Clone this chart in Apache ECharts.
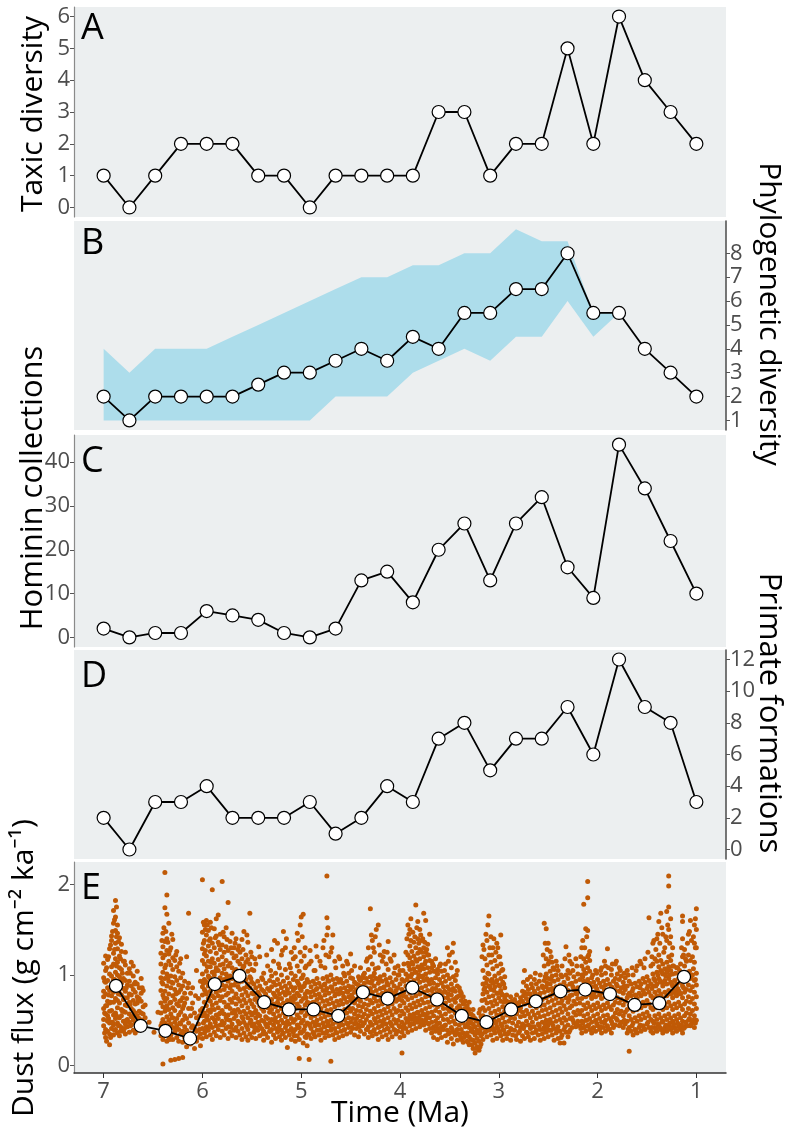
<!DOCTYPE html>
<html><head><meta charset="utf-8">
<script src="https://cdn.jsdelivr.net/npm/echarts@6/dist/echarts.min.js"></script>
<style>html,body{margin:0;padding:0;background:#fff}#c{width:796px;height:1137px}</style>
</head><body><div id="c"></div>
<script>
// ---- DATA ----
const binTimes = [7.000,6.739,6.478,6.217,5.957,5.696,5.435,5.174,4.913,4.652,4.391,4.130,3.870,3.609,3.348,3.087,2.826,2.565,2.304,2.043,1.783,1.522,1.261,1.000];
const taxicDiversity = [1,0,1,2,2,2,1,1,0,1,1,1,1,3,3,1,2,2,5,2,6,4,3,2];
const phyloDiversity = [2,1,2,2,2,2,2.5,3,3,3.5,4,3.5,4.5,4,5.5,5.5,6.5,6.5,8,5.5,5.5,4,3,2];
const bandTimes = [7.000,6.739,6.478,6.217,5.957,5.696,5.435,5.174,4.913,4.652,4.391,4.130,3.870,3.609,3.348,3.087,2.826,2.565,2.304,2.043,1.783];
const bandUpper = [4,3,4,4,4,4.5,5,5.5,6,6.5,7,7,7.5,7.5,8,8,9,8.5,8.5,5.5,5.5];
const bandLower = [1,1,1,1,1,1,1,1,1,2,2,2,3,3.5,4,3.5,4.5,4.5,6,4.5,5.5];
const homininCollections = [2,0,1,1,6,5,4,1,0,2,13,15,8,20,26,13,26,32,16,9,44,34,22,10];
const primateFormations = [2,0,3,3,4,2,2,2,3,1,2,4,3,7,8,5,7,7,9,6,12,9,8,3];
const dustMeanTimes = [6.875,6.625,6.375,6.125,5.875,5.625,5.375,5.125,4.875,4.625,4.375,4.125,3.875,3.625,3.375,3.125,2.875,2.625,2.375,2.125,1.875,1.625,1.375,1.125];
const dustMeans = [0.88,0.44,0.385,0.30,0.90,0.99,0.70,0.62,0.62,0.55,0.81,0.74,0.86,0.73,0.55,0.48,0.62,0.71,0.82,0.84,0.79,0.67,0.69,0.98];
const dustFlux = [
"7.00 0.44 0.51 0.63 0.76 0.82 0.97 1.13","6.98 0.31 0.40 0.57 0.66 0.79 0.92 1.05 1.21","6.96 0.38 0.49 0.55 0.71 0.86 0.94 1.17",
"6.94 0.23 0.35 0.47 0.60 0.69 0.83 1.01 1.29","6.92 0.41 0.48 0.61 0.77 0.84 0.99 1.09 1.38 1.43","6.90 0.34 0.45 0.56 0.70 0.81 0.95 1.12 1.24 1.57 1.71",
"6.88 0.40 0.52 0.58 0.74 0.89 1.03 1.18 1.35 1.49 1.64 1.82","6.86 0.36 0.47 0.64 0.72 0.87 1.00 1.14 1.29 1.46 1.55","6.84 0.33 0.44 0.53 0.69 0.80 0.98 1.08 1.21 1.41",
"6.82 0.42 0.55 0.62 0.78 0.91 1.06 1.26 1.34","6.80 0.38 0.49 0.60 0.73 0.85 0.96 1.15","6.78 0.35 0.46 0.59 0.67 0.82 0.94 1.11 1.25",
"6.76 0.43 0.51 0.66 0.75 0.89 1.02","6.74 0.37 0.48 0.57 0.70 0.79 0.93 1.07","6.72 0.45 0.54 0.63 0.78 0.88 1.14",
"6.70 0.39 0.50 0.61 0.72 0.84 0.99 1.10","6.68 0.36 0.47 0.58 0.68 0.81 0.92","6.66 0.46 0.55 0.69 0.76 0.90 1.04",
"6.64 0.41 0.52 0.60 0.74 0.86","6.62 0.49 0.58 0.71 0.80 0.96","6.60 0.44 0.57 0.65 0.83","6.58 0.53 0.67",
"6.54 0.48","6.49 0.37","6.45 0.59",
"6.42 0.33 0.44 0.58 0.69 0.83 0.97 1.12 1.24","6.40 0.02 0.29 0.38 0.51 0.65 0.78 0.90 1.03 1.19 1.31 1.46","6.38 0.35 0.47 0.60 0.71 0.82 0.96 1.08 1.22 1.37 1.74 2.13",
"6.36 0.27 0.41 0.54 0.66 0.74 0.88 1.01 1.27 1.40 1.67 1.88","6.34 0.31 0.39 0.50 0.62 0.79 0.93 1.15 1.23 1.57","6.32 0.06 0.34 0.46 0.57 0.70 0.86 0.99 1.11 1.30",
"6.30 0.29 0.42 0.53 0.64 0.77 0.91 1.06 1.19 1.39","6.28 0.07 0.37 0.48 0.61 0.73 0.84 0.98 1.16","6.26 0.31 0.44 0.52 0.68 0.80 0.94 1.09 1.26",
"6.24 0.08 0.27 0.40 0.56 0.66 0.81 0.89 1.04","6.22 0.35 0.46 0.59 0.72 0.84 0.97 1.18","6.20 0.09 0.26 0.38 0.50 0.63 0.75 0.88 1.02",
"6.18 0.31 0.43 0.55 0.69 0.80 0.93","6.16 0.21 0.39 0.52 0.74 1.20","6.14 0.30 0.47 0.63 0.91 1.68",
"6.12 0.24 0.36 0.55 0.80","6.10 0.33 0.44 0.69 0.86","6.08 0.19 0.41 0.58",
"6.06 0.27 0.38 0.53 1.05","6.04 0.31 0.46 0.74","6.02 0.22 0.35 0.61 0.93",
"6.00 0.30 0.41 0.55 0.63 0.78 0.87 1.01 1.16 1.29 1.47 2.05","5.98 0.36 0.49 0.58 0.70 0.84 0.95 1.12 1.23 1.38 1.55","5.96 0.32 0.43 0.54 0.66 0.79 0.92 1.04 1.21 1.44 1.60",
"5.94 0.39 0.50 0.61 0.74 0.88 0.99 1.15 1.32 1.49","5.92 0.34 0.46 0.59 0.71 0.82 0.96 1.09 1.26 1.40 1.58","5.90 0.29 0.42 0.53 0.67 0.77 0.90 1.03 1.18 1.35 1.94",
"5.88 0.37 0.51 0.62 0.75 0.86 1.00 1.13 1.30 1.51","5.86 0.33 0.44 0.56 0.69 0.81 0.94 1.08 1.24 1.43 1.62","5.84 0.40 0.52 0.64 0.77 0.90 1.05 1.17 1.36 1.66",
"5.82 0.31 0.45 0.58 0.72 0.83 0.97 1.11 1.28 1.45","5.80 0.38 0.49 0.61 0.76 0.89 1.02 1.20 1.33 2.03","5.78 0.34 0.47 0.57 0.70 0.84 0.95 1.07 1.25 1.42",
"5.76 0.41 0.53 0.65 0.78 0.88 1.01 1.16 1.31 1.52","5.74 0.30 0.43 0.56 0.67 0.80 0.93 1.10 1.27 1.80","5.72 0.37 0.50 0.63 0.73 0.86 0.99 1.13 1.37",
"5.70 0.33 0.46 0.58 0.70 0.82 0.96 1.08 1.24 1.46","5.68 0.39 0.52 0.61 0.75 0.89 1.03 1.19 1.30","5.66 0.31 0.42 0.55 0.68 0.79 0.92 1.06 1.21 1.40",
"5.64 0.38 0.49 0.62 0.74 0.87 1.00 1.15 1.28","5.62 0.34 0.47 0.59 0.71 0.84 0.97 1.12 1.25","5.60 0.29 0.41 0.54 0.66 0.78 0.93 1.05 1.18 1.39",
"5.58 0.36 0.48 0.60 0.73 0.85 0.99 1.10 1.48","5.56 0.32 0.45 0.57 0.69 0.81 0.95 1.14 1.22","5.54 0.28 0.40 0.53 0.64 0.77 0.90 1.04 1.17 1.36",
"5.52 0.35 0.47 0.59 0.72 0.86 0.98 1.12 1.68","5.50 0.31 0.44 0.56 0.68 0.80 0.92 1.06 1.20","5.48 0.37 0.46 0.58 0.65 0.79 0.90 1.05",
"5.46 0.30 0.42 0.53 0.61 0.74 0.86 1.12","5.44 0.39 0.48 0.57 0.70 0.81 0.93","5.42 0.33 0.44 0.55 0.66 0.77 0.88 1.20",
"5.40 0.41 0.50 0.63 0.72 0.84 0.97","5.38 0.28 0.38 0.49 0.60 0.69 0.82 1.02","5.36 0.35 0.46 0.54 0.67 0.79 0.91",
"5.34 0.31 0.43 0.52 0.64 0.75 0.85 1.10","5.32 0.38 0.47 0.59 0.71 0.83 0.94","5.30 0.26 0.40 0.51 0.62 0.73 0.87 0.99 1.28",
"5.28 0.34 0.45 0.57 0.68 0.80 0.92 1.15","5.26 0.30 0.41 0.53 0.65 0.76 0.89 1.02","5.24 0.37 0.48 0.60 0.70 0.83 0.95 1.35",
"5.22 0.32 0.44 0.55 0.67 0.79 0.90 1.08","5.20 0.28 0.39 0.50 0.63 0.74 0.86 1.00 1.22","5.18 0.36 0.47 0.58 0.69 0.81 0.93 1.48",
"5.16 0.31 0.42 0.54 0.66 0.78 0.88 1.06 1.30","5.14 0.20 0.38 0.49 0.61 0.72 0.84 0.97","5.12 0.34 0.46 0.57 0.68 0.80 0.91 1.12",
"5.10 0.29 0.41 0.52 0.64 0.75 0.87 1.02 1.25","5.08 0.37 0.48 0.59 0.70 0.83 0.95 1.18","5.06 0.27 0.40 0.51 0.63 0.74 0.86 0.99 1.20",
"5.04 0.33 0.45 0.56 0.68 0.80 0.93 1.10 1.46","5.02 0.08 0.29 0.42 0.53 0.65 0.77 0.89 1.04","5.00 0.36 0.47 0.59 0.71 0.83 0.96 1.15 1.64",
"4.98 0.25 0.38 0.50 0.62 0.74 0.87 1.00 1.67","4.96 0.32 0.44 0.55 0.67 0.79 0.91 1.08 1.30","4.94 0.22 0.35 0.47 0.58 0.70 0.82 0.95",
"4.92 0.07 0.34 0.46 0.57 0.69 0.81 0.92 1.12","4.90 0.30 0.41 0.53 0.64 0.76 0.87 1.15","4.88 0.37 0.48 0.59 0.70 0.82 0.93",
"4.86 0.32 0.44 0.55 0.67 0.78 0.90 1.05","4.84 0.39 0.50 0.61 0.73 0.85 0.96 1.20","4.82 0.34 0.45 0.57 0.68 0.79 0.91",
"4.80 0.28 0.40 0.52 0.63 0.75 0.87 1.10","4.78 0.36 0.47 0.58 0.71 0.83 0.96 1.30","4.76 0.31 0.43 0.54 0.66 0.78 0.90 1.08",
"4.74 0.38 0.49 0.61 0.72 0.85 0.98 1.44 1.63 2.09","4.72 0.33 0.44 0.56 0.68 0.80 0.93 1.20","4.70 0.05 0.39 0.50 0.62 0.74 0.87 1.00 1.25",
"4.68 0.34 0.46 0.57 0.69 0.82 0.95 1.44","4.66 0.29 0.41 0.53 0.65 0.77 0.90 1.15","4.64 0.36 0.48 0.59 0.71 0.84 0.96",
"4.62 0.31 0.43 0.55 0.67 0.79 0.92 1.20","4.60 0.38 0.49 0.60 0.72 0.85 0.95","4.58 0.33 0.45 0.56 0.68 0.80 0.91 1.10",
"4.56 0.40 0.51 0.62 0.74 0.86 0.99","4.54 0.35 0.47 0.58 0.70 0.82 0.93 1.15","4.52 0.42 0.53 0.64 0.76 0.88 1.02",
"4.50 0.37 0.48 0.60 0.72 0.84 0.97 1.23","4.48 0.41 0.52 0.63 0.75 0.87 0.96","4.46 0.34 0.46 0.57 0.69 0.81 0.92 1.10",
"4.44 0.41 0.52 0.61 0.73 0.84 0.90","4.42 0.32 0.45 0.55 0.66 0.78 0.89 0.98","4.40 0.38 0.49 0.60 0.71 0.83 0.94 1.08",
"4.38 0.44 0.54 0.65 0.76 0.88 0.97","4.36 0.35 0.47 0.57 0.68 0.80 0.91 1.02","4.34 0.40 0.51 0.62 0.74 0.86 0.96 1.15",
"4.32 0.31 0.43 0.55 0.67 0.79 0.92 1.06 1.30","4.30 0.37 0.48 0.60 0.72 0.85 0.98 1.20 1.73","4.28 0.33 0.45 0.57 0.69 0.81 0.94 1.12 1.38",
"4.26 0.40 0.52 0.63 0.75 0.88 1.02 1.25","4.24 0.35 0.47 0.59 0.71 0.83 0.96 1.50","4.22 0.29 0.42 0.54 0.66 0.78 0.91 1.08 1.55",
"4.20 0.37 0.49 0.60 0.72 0.85 0.98 1.22","4.18 0.32 0.44 0.56 0.68 0.80 0.93 1.15","4.16 0.39 0.51 0.62 0.74 0.87 1.00 1.26",
"4.14 0.34 0.46 0.58 0.70 0.82 0.95 1.12","4.12 0.29 0.41 0.53 0.65 0.77 0.89 1.06 1.37","4.10 0.37 0.48 0.60 0.72 0.84 0.97 1.18",
"4.08 0.32 0.44 0.56 0.68 0.80 0.92","4.06 0.40 0.51 0.63 0.75 0.88 1.02 1.22","4.04 0.35 0.47 0.59 0.71 0.83 0.95",
"4.02 0.38 0.50 0.61 0.73 0.86 1.00 1.10","4.00 0.31 0.43 0.55 0.66 0.78 0.90 1.05","3.98 0.14 0.37 0.48 0.60 0.72 0.84 0.95",
"3.96 0.33 0.45 0.57 0.69 0.81 0.93 1.12","3.94 0.41 0.52 0.64 0.76 0.88 1.01 1.25","3.92 0.37 0.49 0.61 0.73 0.86 0.99 1.13 1.22 1.55",
"3.90 0.44 0.56 0.67 0.80 0.92 1.06 1.19 1.32 1.50","3.88 0.39 0.51 0.63 0.75 0.88 1.01 1.14 1.26","3.86 0.46 0.57 0.69 0.82 0.94 1.07 1.21 1.36",
"3.84 0.41 0.53 0.65 0.77 0.90 1.03 1.17 1.30 1.77","3.82 0.48 0.59 0.71 0.84 0.96 1.09 1.24 1.40 1.59","3.80 0.43 0.55 0.67 0.79 0.92 1.05 1.18 1.28 1.50",
"3.78 0.50 0.61 0.73 0.86 0.98 1.11 1.25 1.38","3.76 0.45 0.57 0.69 0.81 0.94 1.07 1.20 1.30 1.68","3.74 0.39 0.51 0.63 0.76 0.88 1.01 1.15 1.25 1.60",
"3.72 0.47 0.58 0.70 0.83 0.95 1.08 1.22 1.34","3.70 0.41 0.53 0.65 0.77 0.90 1.03 1.16 1.45","3.68 0.36 0.48 0.59 0.71 0.83 0.95 1.08 1.15",
"3.66 0.31 0.43 0.55 0.67 0.79 0.91 1.04 1.10","3.64 0.38 0.49 0.61 0.73 0.85 0.97 1.18","3.62 0.29 0.41 0.53 0.65 0.77 0.89 1.01 1.06",
"3.60 0.36 0.47 0.59 0.71 0.83 0.95 1.10","3.58 0.31 0.43 0.55 0.67 0.79 0.91 1.04","3.56 0.40 0.51 0.63 0.75 0.87 0.98",
"3.54 0.33 0.45 0.57 0.69 0.81 0.93 1.12","3.52 0.26 0.39 0.51 0.63 0.75 0.87 1.00 1.30","3.50 0.36 0.48 0.60 0.72 0.84 0.96 1.22",
"3.48 0.30 0.42 0.54 0.66 0.78 0.90 1.08","3.46 0.24 0.37 0.49 0.61 0.73 0.85 0.98 1.35","3.44 0.34 0.46 0.58 0.70 0.82 0.94 1.14",
"3.42 0.28 0.40 0.52 0.64 0.76 0.88 1.05","3.40 0.35 0.45 0.56 0.66 0.77 0.86","3.38 0.29 0.40 0.50 0.61 0.72 0.80",
"3.36 0.26 0.36 0.47 0.58 0.68 0.76","3.34 0.33 0.43 0.54 0.63 0.71","3.32 0.27 0.36 0.45 0.56 0.66",
"3.30 0.23 0.32 0.42 0.51 0.62 0.70","3.28 0.29 0.38 0.47 0.57","3.26 0.19 0.28 0.37 0.46 0.55 0.62",
"3.24 0.14 0.25 0.34 0.43 0.52","3.22 0.21 0.30 0.39 0.49","3.20 0.17 0.27 0.36 0.45 0.58",
"3.18 0.24 0.33 0.42 0.54","3.16 0.29 0.42 0.55 0.64 0.79 0.90 1.05 1.33","3.14 0.37 0.48 0.61 0.73 0.86 0.97 1.18",
"3.12 0.32 0.45 0.53 0.69 0.81 0.95 1.11 1.38","3.10 0.39 0.51 0.63 0.76 0.88 1.01 1.22 1.65","3.08 0.34 0.44 0.58 0.70 0.84 0.93 1.14 1.42",
"3.06 0.28 0.41 0.52 0.66 0.77 0.91 1.07 1.30","3.04 0.36 0.49 0.60 0.72 0.87 0.99 1.16","3.02 0.30 0.43 0.56 0.68 0.80 0.94 1.10 1.35",
"3.00 0.38 0.50 0.62 0.75 0.89 1.02 1.20","2.98 0.33 0.46 0.57 0.71 0.83 0.96 1.12 1.44","2.96 0.28 0.40 0.53 0.65 0.78 0.92 1.06",
"2.94 0.35 0.48 0.60 0.74 0.86 0.98","2.92 0.30 0.43 0.56 0.71 0.78","2.90 0.37 0.49 0.62 0.70",
"2.88 0.28 0.41 0.53 0.66 0.76","2.86 0.34 0.47 0.59 0.68","2.84 0.39 0.52 0.63 0.73",
"2.82 0.29 0.44 0.57 0.69 0.78","2.80 0.36 0.48 0.61 0.67","2.78 0.27 0.42 0.54 0.64 0.75",
"2.76 0.33 0.46 0.59 0.71 0.82","2.74 0.30 0.44 0.55 0.68 0.81 1.05","2.72 0.37 0.49 0.61 0.74 0.88",
"2.70 0.32 0.45 0.57 0.70 0.84","2.68 0.28 0.41 0.53 0.66 0.79 0.98","2.66 0.36 0.48 0.60 0.73 0.86",
"2.64 0.30 0.43 0.56 0.69 0.82 0.95","2.62 0.39 0.52 0.64 0.76 0.90","2.60 0.34 0.46 0.58 0.71 0.85",
"2.58 0.28 0.40 0.54 0.66 0.80 1.00","2.56 0.35 0.48 0.61 0.73 0.88","2.54 0.30 0.42 0.55 0.67 0.81 0.94 1.10 1.57",
"2.52 0.37 0.50 0.62 0.75 0.87 1.01 1.18 1.51","2.50 0.32 0.45 0.57 0.70 0.83 0.96 1.12 1.35","2.48 0.39 0.51 0.64 0.77 0.90 1.04 1.26",
"2.46 0.34 0.47 0.59 0.72 0.85 0.99 1.14","2.44 0.28 0.41 0.54 0.67 0.79 0.93 1.06","2.42 0.36 0.49 0.61 0.74 0.87 1.00 1.15",
"2.40 0.30 0.43 0.56 0.69 0.82 0.95 1.05","2.38 0.25 0.38 0.51 0.63 0.76 0.89","2.36 0.34 0.47 0.59 0.72 0.85 0.98 1.10",
"2.34 0.25 0.40 0.53 0.66 0.79 0.92","2.32 0.37 0.50 0.62 0.75 0.88 1.00 1.31","2.30 0.32 0.45 0.57 0.70 0.83 0.96 1.05",
"2.28 0.39 0.52 0.64 0.77 0.90 1.02 1.15","2.26 0.42 0.53 0.66 0.78 0.91 1.12","2.24 0.47 0.59 0.71 0.84 0.98",
"2.22 0.43 0.56 0.68 0.80 0.93 1.18","2.20 0.49 0.61 0.74 0.86 1.01","2.18 0.44 0.57 0.69 0.82 0.95",
"2.16 0.36 0.49 0.61 0.74 0.87 1.00 1.10 1.30","2.14 0.42 0.55 0.67 0.80 0.93 1.06 1.18 1.78","2.12 0.38 0.50 0.63 0.76 0.89 1.02 1.14 1.51",
"2.10 0.44 0.57 0.69 0.82 0.95 1.08 1.20 1.49 1.85 2.03","2.08 0.40 0.52 0.65 0.78 0.91 1.04 1.16 1.26","2.06 0.36 0.48 0.61 0.74 0.87 0.97",
"2.04 0.42 0.55 0.67 0.80 0.92","2.02 0.38 0.50 0.63 0.76 0.88 1.05","2.00 0.44 0.57 0.69 0.82 0.95",
"1.98 0.40 0.52 0.65 0.78 0.91","1.96 0.36 0.48 0.61 0.74 0.87 1.00 1.08","1.94 0.42 0.55 0.67 0.80 0.93",
"1.92 0.38 0.50 0.63 0.76 0.89 1.02 1.10","1.90 0.44 0.56 0.69 0.82 0.95 1.29","1.88 0.40 0.52 0.65 0.78 0.90",
"1.86 0.36 0.49 0.62 0.74 0.87 1.00 1.06","1.84 0.42 0.54 0.67 0.80 0.93","1.82 0.45 0.58 0.70 0.83 0.96 1.12",
"1.80 0.50 0.62 0.75 0.88 1.01","1.78 0.44 0.57 0.69 0.82 0.95 1.08","1.76 0.48 0.60 0.73 0.86 0.99",
"1.74 0.42 0.55 0.67 0.80 0.92","1.72 0.46 0.59 0.71 0.84 0.97","1.70 0.36 0.49 0.62 0.75 0.88 1.05",
"1.68 0.16 0.42 0.55 0.67 0.80 0.93","1.66 0.38 0.51 0.64 0.77 0.90","1.64 0.34 0.47 0.60 0.72 0.85 1.00",
"1.62 0.40 0.53 0.66 0.78 0.91","1.60 0.36 0.49 0.62 0.74 0.87 1.10","1.58 0.42 0.55 0.67 0.80 0.93",
"1.56 0.38 0.51 0.64 0.77 0.90 1.12","1.54 0.44 0.57 0.70 0.83 0.96","1.52 0.40 0.53 0.66 0.79 0.92 1.18",
"1.50 0.46 0.59 0.72 0.85 0.98","1.48 0.42 0.55 0.68 0.81 0.94 1.63","1.46 0.38 0.51 0.64 0.77 0.90 1.10",
"1.44 0.36 0.49 0.62 0.75 0.88 1.01 1.12 1.35","1.42 0.42 0.55 0.68 0.81 0.94 1.18","1.40 0.38 0.51 0.64 0.77 0.90 1.03 1.15 1.40",
"1.38 0.44 0.57 0.70 0.83 0.96 1.09 1.22 1.59","1.36 0.40 0.53 0.66 0.79 0.92 1.05 1.16 1.68","1.34 0.36 0.49 0.62 0.75 0.88 1.01 1.12 1.45",
"1.32 0.42 0.55 0.68 0.81 0.94 1.07 1.30","1.30 0.38 0.51 0.64 0.77 0.90 1.03 1.14 1.38 1.70","1.28 0.44 0.57 0.70 0.83 0.96 1.09 1.20 1.50 1.75 1.98 2.09",
"1.26 0.40 0.53 0.66 0.79 0.92 1.05 1.16 1.42 1.62","1.24 0.36 0.49 0.62 0.75 0.88 1.01 1.10 1.30","1.22 0.42 0.55 0.68 0.81 0.94",
"1.20 0.38 0.51 0.64 0.77 0.90 1.08","1.18 0.44 0.57 0.70 0.83 0.96","1.16 0.40 0.53 0.66 0.79 0.92 1.12",
"1.14 0.36 0.49 0.62 0.75 0.88 1.01 1.20 1.40 1.59 1.65","1.12 0.42 0.55 0.68 0.81 0.94 1.10 1.28","1.10 0.45 0.58 0.71 0.84 0.97 1.15",
"1.08 0.50 0.63 0.76 0.89 1.02 1.22 1.45","1.06 0.44 0.57 0.70 0.83 0.96 1.16 1.60","1.04 0.48 0.61 0.74 0.87 1.00 1.20",
"1.02 0.42 0.55 0.68 0.81 0.94 1.14 1.35 1.55","1.00 0.50 0.63 0.76 0.89 1.02 1.30 1.50 1.73"
];
// further samples between the rows above
const dustFluxOdd = [
"6.99 0.36 0.58 0.93","6.97 0.27 0.66 1.08","6.95 0.52 0.78 1.20","6.93 0.31 0.70 1.33","6.91 0.48 0.87 1.48",
"6.89 0.39 0.95 1.28 1.61","6.87 0.55 1.10 1.42 1.75","6.85 0.44 0.79 1.37","6.83 0.38 0.93 1.18","6.81 0.60 1.02",
"6.79 0.41 0.75 1.15","6.77 0.50 0.86","6.73 0.44 0.68 1.02","6.69 0.55 0.90","6.65 0.39 0.73","6.61 0.50 0.86",
"6.41 0.47 0.92 1.38","6.39 0.33 0.75 1.52","6.37 0.62 1.11 1.48","6.35 0.45 0.97 1.36","6.33 0.29 0.69 1.27",
"6.31 0.53 0.92 1.45","6.27 0.40 0.79 1.22","6.23 0.47 0.71 1.13","6.19 0.36 0.66","6.15 0.28 0.86","6.11 0.42 0.63",
"6.07 0.30 0.77","6.03 0.40 0.55","5.99 0.47 0.91 1.35 1.58","5.97 0.38 0.82 1.27 1.50","5.95 0.55 1.09 1.55",
"5.93 0.43 0.97 1.38","5.91 0.62 1.14 1.52","5.87 0.48 1.04 1.41","5.83 0.57 0.93 1.33","5.79 0.45 1.12 1.47",
"5.75 0.51 0.98 1.39","5.71 0.42 0.89 1.30","5.67 0.58 1.01 1.35","5.63 0.46 0.92 1.32","5.59 0.52 1.08 1.28",
"5.55 0.43 0.87 1.44","5.51 0.50 0.96 1.25","5.47 0.41 0.73 1.18","5.43 0.47 0.79 1.31","5.39 0.35 0.64 0.95",
"5.35 0.43 0.73 1.22","5.31 0.38 0.67 1.05","5.27 0.49 0.78 1.38","5.23 0.41 0.74 1.12","5.19 0.35 0.63 1.27",
"5.15 0.45 0.80 1.40","5.11 0.39 0.71 1.08","5.07 0.33 0.77 1.30","5.03 0.42 0.91 1.38","5.01 0.37 0.85 1.25 1.55",
"4.99 0.49 0.97 1.42","4.97 0.40 0.88 1.21","4.95 0.31 0.75 1.10","4.91 0.44 0.81 1.27","4.87 0.35 0.70 1.05",
"4.85 0.47 0.84 1.32","4.81 0.39 0.76 1.15","4.77 0.43 0.89 1.38","4.75 0.36 0.83 1.22","4.73 0.47 0.94 1.52",
"4.69 0.41 0.86 1.30","4.65 0.37 0.79 1.08","4.61 0.45 0.83 1.18","4.57 0.39 0.76 1.02","4.53 0.46 0.81 1.12",
"4.49 0.42 0.78 1.05","4.45 0.48 0.83","4.41 0.43 0.76 0.95","4.37 0.47 0.82 1.00","4.33 0.40 0.84 1.18",
"4.29 0.45 0.91 1.44","4.27 0.38 0.99 1.30","4.25 0.50 1.07 1.42","4.21 0.43 0.95 1.33","4.17 0.47 0.86 1.20",
"4.13 0.41 0.91 1.25","4.09 0.46 0.83 1.15","4.05 0.39 0.80 1.08","4.01 0.44 0.74 1.00","3.97 0.41 0.77 1.05",
"3.93 0.48 0.95 1.40","3.91 0.52 1.10 1.45","3.89 0.46 0.98 1.38 1.62","3.87 0.55 1.12 1.47","3.85 0.50 1.03 1.42",
"3.83 0.58 1.15 1.52","3.81 0.52 1.00 1.35","3.79 0.47 1.08 1.44","3.77 0.56 0.99 1.40","3.75 0.49 1.12 1.36",
"3.73 0.54 0.96 1.28","3.71 0.46 0.93 1.22","3.67 0.41 0.85 1.12","3.63 0.45 0.80 1.03","3.59 0.39 0.76 1.12",
"3.55 0.44 0.82 1.05","3.51 0.35 0.79 1.15","3.47 0.40 0.83 1.25","3.43 0.37 0.75 1.00","3.39 0.33 0.63 0.82",
"3.35 0.31 0.52 0.70","3.31 0.26 0.47 0.60","3.27 0.23 0.41 0.52","3.23 0.19 0.37 0.50","3.19 0.21 0.39 0.62",
"3.17 0.35 0.72 1.20","3.15 0.42 0.84 1.28","3.13 0.38 0.91 1.45","3.11 0.47 1.02 1.55","3.09 0.40 0.87 1.30",
"3.07 0.45 0.95 1.22","3.05 0.39 0.83 1.40","3.03 0.47 0.92 1.25","3.01 0.41 0.80 1.30","2.99 0.36 0.88 1.20",
"2.97 0.44 0.79 1.05","2.95 0.39 0.70 0.90","2.91 0.35 0.66","2.87 0.40 0.71","2.83 0.33 0.58","2.79 0.38 0.70",
"2.75 0.41 0.77 0.92","2.71 0.36 0.79 0.95","2.67 0.43 0.75 0.90","2.63 0.37 0.80 1.02","2.59 0.44 0.77 0.93",
"2.55 0.40 0.86 1.22","2.53 0.46 0.98 1.35","2.51 0.41 0.91 1.28","2.49 0.47 0.84 1.15","2.47 0.39 0.95 1.20",
"2.45 0.44 0.81 1.08","2.41 0.40 0.78 1.10","2.37 0.31 0.69 1.00","2.33 0.43 0.82 1.18","2.29 0.37 0.73 1.22",
"2.25 0.50 0.87 1.05","2.21 0.46 0.79 1.10","2.17 0.41 0.85 1.20","2.15 0.47 0.98 1.38","2.13 0.43 1.02 1.30",
"2.11 0.50 0.92 1.42","2.09 0.45 0.86 1.22","2.05 0.41 0.77 1.00","2.01 0.47 0.85 1.02","1.97 0.43 0.80 1.05",
"1.93 0.47 0.84 1.15","1.89 0.41 0.79 1.08","1.85 0.46 0.86 1.12","1.81 0.52 0.90 1.15","1.77 0.46 0.82 1.05",
"1.73 0.50 0.88 1.02","1.69 0.40 0.78 1.00","1.65 0.44 0.82 1.08","1.61 0.38 0.77 1.05","1.57 0.45 0.86 1.15",
"1.53 0.41 0.80 1.08","1.49 0.48 0.88 1.25","1.45 0.42 0.85 1.20","1.43 0.47 0.96 1.38","1.41 0.40 0.88 1.28",
"1.39 0.46 1.00 1.45","1.37 0.42 0.94 1.35","1.35 0.48 1.03 1.52","1.33 0.40 0.92 1.25","1.31 0.45 0.99 1.42",
"1.29 0.41 1.06 1.55","1.27 0.47 1.00 1.35","1.25 0.42 0.90 1.22","1.23 0.46 0.83 1.10","1.21 0.40 0.79 1.02",
"1.19 0.47 0.85 1.08","1.17 0.42 0.81 1.05","1.15 0.45 0.92 1.30","1.13 0.41 0.86 1.22","1.11 0.48 0.93 1.18",
"1.09 0.44 0.97 1.35","1.07 0.52 1.04 1.48","1.05 0.46 0.99 1.38","1.03 0.50 1.07 1.42","1.01 0.47 0.95 1.30 1.62"
];
const xTicks = [1,2,3,4,5,6,7];
const ticksA = [0,1,2,3,4,5,6];
const ticksB = [1,2,3,4,5,6,7,8];
const ticksC = [0,10,20,30,40];
const ticksD = [0,2,4,6,8,10,12];
const ticksE = [0,1,2];

// ---- CHART ----
const FONT = '"Open Sans", "Noto Sans", sans-serif';
const PANEL_BG = '#ECEFF0';
const chart = echarts.init(document.getElementById('c'), null, {renderer:'canvas'});
const panels = [
  {top:7, height:210}, {top:221, height:209}, {top:435, height:212}, {top:650, height:209}, {top:862, height:211}
];
const grids = panels.map(p => ({left:74, width:652, top:p.top, height:p.height, show:true, backgroundColor:PANEL_BG, borderWidth:0}));
const xAxes = panels.map((p, i) => ({
  gridIndex:i, type:'value', min:0.7, max:7.3, inverse:true, show: i === 4,
  axisLine:{show:true, onZero:false, lineStyle:{color:'#333', width:1.5}},
  axisTick:{show:true, length:5, lineStyle:{color:'#333'}, customValues:xTicks},
  axisLabel:{fontSize:22, color:'#4d4d4d', fontFamily:FONT, margin:8, customValues:xTicks},
  splitLine:{show:false}
}));
function yAx(i, min, max, ticks, pos){
  return {gridIndex:i, type:'value', min:min, max:max, position:pos,
    axisLine:{show:true, onZero:false, lineStyle:{color: pos==='left' ? '#8a8a8a' : '#555', width: pos==='left'?1.2:1.6}},
    axisTick:{show:true, length:4, lineStyle:{color:'#555'}, customValues:ticks},
    axisLabel:{fontSize:22, color:'#4d4d4d', fontFamily:FONT, margin:4, customValues:ticks},
    splitLine:{show:false}};
}
const yAxes = [
  yAx(0,-0.3,6.3,ticksA,'left'),
  yAx(1,0.6,9.35,ticksB,'right'),
  yAx(2,-2.2,46.2,ticksC,'left'),
  yAx(3,-0.6,12.6,ticksD,'right'),
  yAx(4,-0.08,2.245,ticksE,'left')
];
function lineSeries(i, times, vals){
  return {type:'line', xAxisIndex:i, yAxisIndex:i, data: times.map((t,k)=>[t, vals[k]]),
    symbol:'circle', symbolSize:13, showAllSymbol:true, clip:false, z:5,
    lineStyle:{color:'#000', width:1.8},
    itemStyle:{color:'#fff', borderColor:'#000', borderWidth:1.2}};
}
const dustPts = [];
dustFlux.concat(dustFluxOdd).forEach(row => { const p = row.trim().split(/\s+/).map(Number); for (let k=1;k<p.length;k++) dustPts.push([p[0], p[k]]); });

const bandData = bandTimes.map((t,k)=>[t, bandLower[k], bandUpper[k]]);
const series = [
  {type:'custom', xAxisIndex:1, yAxisIndex:1, data:bandData, z:1,
   encode:{x:0, y:[1,2]},
   renderItem:function(params, api){
     if (params.dataIndex !== 0) return null;
     const pts = [];
     for (let k=0;k<bandTimes.length;k++) pts.push(api.coord([bandTimes[k], bandUpper[k]]));
     for (let k=bandTimes.length-1;k>=0;k--) pts.push(api.coord([bandTimes[k], bandLower[k]]));
     return {type:'polygon', shape:{points:pts}, style:{fill:'#ADDDEB'}};
   }},
  lineSeries(0, binTimes, taxicDiversity),
  lineSeries(1, binTimes, phyloDiversity),
  lineSeries(2, binTimes, homininCollections),
  lineSeries(3, binTimes, primateFormations),
  {type:'scatter', xAxisIndex:4, yAxisIndex:4, data:dustPts, symbolSize:5, z:2, large:false,
   itemStyle:{color:'#C05A06', opacity:1}},
  lineSeries(4, dustMeanTimes, dustMeans)
];
function txt(s, x, y, size, rot, align, valign){
  return {type:'text', x:x, y:y, rotation:rot||0, z:100,
    style:{text:s, fontSize:size, fontFamily:FONT, fill:'#000', textAlign:align||'center', textVerticalAlign:valign||'middle'}};
}
const graphics = [
  txt('A', 81, 11, 36, 0, 'left', 'top'),
  txt('B', 81, 226, 36, 0, 'left', 'top'),
  txt('C', 81, 444, 36, 0, 'left', 'top'),
  txt('D', 81, 659, 36, 0, 'left', 'top'),
  txt('E', 81, 871, 36, 0, 'left', 'top'),
  txt('Taxic diversity', 33, 114, 30, Math.PI/2),
  txt('Phylogenetic diversity', 769, 314, 30, -Math.PI/2),
  txt('Hominin collections', 33, 488, 31, Math.PI/2),
  txt('Primate formations', 769, 713, 31, -Math.PI/2),
  txt('Dust flux (g cm\u207B\u00B2 ka\u207B\u00B9)', 24, 968, 30, Math.PI/2),
  txt('Time (Ma)', 400, 1113, 30, 0)
];
chart.setOption({
  animation:false, backgroundColor:'#fff',
  grid:grids, xAxis:xAxes, yAxis:yAxes, series:series, graphic:graphics
});
</script></body></html>
